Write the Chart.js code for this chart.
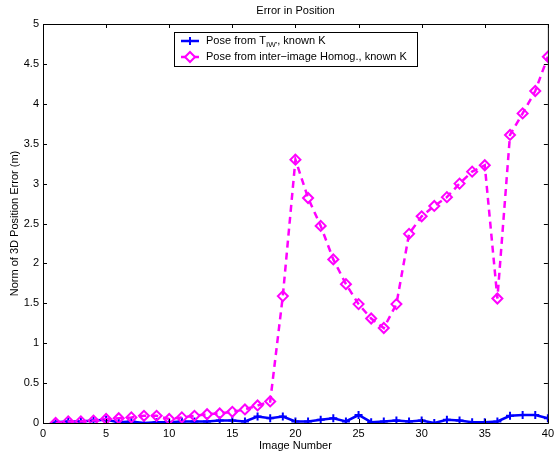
<!DOCTYPE html>
<html>
<head>
<meta charset="utf-8">
<script src="https://cdn.jsdelivr.net/npm/chart.js@4/dist/chart.umd.min.js"></script>
<style>
  html, body { margin: 0; padding: 0; background: #fff; }
  #wrap { width: 558px; height: 455px; }
</style>
</head>
<body>
<div id="wrap"><canvas id="err-pos"></canvas></div>
<script>
const imageNumbers = [1,2,3,4,5,6,7,8,9,10,11,12,13,14,15,16,17,18,19,20,
  21,22,23,24,25,26,27,28,29,30,31,32,33,34,35,36,37,38,39,40];

const poseKnownK = [0.01,0.02,0.02,0.03,0.04,0.01,0.02,0.00,0.01,0.01,
  0.02,0.02,0.02,0.03,0.03,0.02,0.08,0.06,0.08,0.02,
  0.02,0.04,0.06,0.02,0.10,0.01,0.02,0.03,0.02,0.03,
  0.00,0.04,0.03,0.01,0.01,0.02,0.09,0.10,0.10,0.06];

const poseHomog = [0.00,0.02,0.02,0.03,0.05,0.06,0.07,0.09,0.09,0.05,
  0.07,0.09,0.11,0.12,0.14,0.17,0.22,0.27,1.59,3.30,
  2.82,2.47,2.05,1.74,1.49,1.31,1.19,1.49,2.37,2.59,
  2.72,2.83,3.00,3.15,3.23,1.56,3.61,3.88,4.16,4.59];

const xTicks = [0,5,10,15,20,25,30,35,40];
const yTicks = [0,0.5,1,1.5,2,2.5,3,3.5,4,4.5,5];

const FONT = '"Liberation Sans", Arial, sans-serif';

// matlab style box, inward ticks, title and legend
const matlabAxes = {
  id: 'matlabAxes',
  afterDraw(chart) {
    const { ctx, chartArea: a, scales } = chart;
    ctx.save();
    ctx.strokeStyle = '#000';
    ctx.lineWidth = 1;
    ctx.strokeRect(a.left + 0.5, a.top + 0.5, a.right - a.left, a.bottom - a.top);
    ctx.beginPath();
    xTicks.forEach(v => {
      const x = Math.round(scales.x.getPixelForValue(v)) + 0.5;
      ctx.moveTo(x, a.bottom); ctx.lineTo(x, a.bottom - 4);
      ctx.moveTo(x, a.top); ctx.lineTo(x, a.top + 4);
    });
    yTicks.forEach(v => {
      const y = Math.round(scales.y.getPixelForValue(v)) + 0.5;
      ctx.moveTo(a.left, y); ctx.lineTo(a.left + 4, y);
      ctx.moveTo(a.right, y); ctx.lineTo(a.right - 4, y);
    });
    ctx.stroke();

    // title
    ctx.fillStyle = '#000';
    ctx.font = '11px ' + FONT;
    ctx.textAlign = 'center';
    ctx.textBaseline = 'middle';
    ctx.fillText('Error in Position', (a.left + a.right) / 2, 11);

    // legend
    const L = 174, T = 32, R = 417, B = 66;
    ctx.fillStyle = '#fff';
    ctx.fillRect(L, T, R - L, B - T);
    ctx.strokeStyle = '#000';
    ctx.strokeRect(L + 0.5, T + 0.5, R - L, B - T);
    const rows = [41, 57];
    chart.data.datasets.forEach((ds, i) => {
      const y = rows[i];
      ctx.strokeStyle = ds.borderColor;
      ctx.lineWidth = 2.5;
      ctx.setLineDash([]);
      ctx.beginPath(); ctx.moveTo(181, y); ctx.lineTo(199, y); ctx.stroke();
      ctx.lineWidth = 2;
      if (ds.pointStyle === 'cross') {
        ctx.beginPath();
        ctx.moveTo(186, y); ctx.lineTo(194, y);
        ctx.moveTo(190, y - 4); ctx.lineTo(190, y + 4);
        ctx.stroke();
      } else {
        ctx.fillStyle = '#fff';
        ctx.beginPath();
        ctx.moveTo(185, y); ctx.lineTo(190, y - 5); ctx.lineTo(195, y); ctx.lineTo(190, y + 5);
        ctx.closePath(); ctx.fill(); ctx.stroke();
      }
    });
    ctx.fillStyle = '#000';
    ctx.textAlign = 'left';
    ctx.font = '11px ' + FONT;
    let tx = 206;
    ctx.fillText('Pose from T', tx, rows[0]);
    tx += ctx.measureText('Pose from T').width;
    ctx.font = '8px ' + FONT;
    ctx.fillText("IW'", tx, rows[0] + 4);
    tx += ctx.measureText("IW'").width;
    ctx.font = '11px ' + FONT;
    ctx.fillText(', known K', tx, rows[0]);
    ctx.fillText('Pose from inter\u2212image Homog., known K', 206, rows[1]);
    ctx.restore();
  }
};

const ctx1 = document.getElementById('err-pos');
const errChart = new Chart(ctx1, {
  type: 'line',
  data: {
    labels: imageNumbers,
    datasets: [{
      label: "Pose from T_IW', known K",
      data: imageNumbers.map((n, i) => ({ x: n, y: poseKnownK[i] })),
      borderColor: '#0000ff',
      borderWidth: 2.5,
      pointStyle: 'cross',
      pointRadius: 4,
      pointBorderWidth: 2,
      pointBorderColor: '#0000ff',
      tension: 0,
      order: 2
    }, {
      label: 'Pose from inter-image Homog., known K',
      data: imageNumbers.map((n, i) => ({ x: n, y: poseHomog[i] })),
      borderColor: '#ff00ff',
      borderWidth: 2.5,
      borderDash: [7, 5],
      pointStyle: 'rectRot',
      pointRadius: 5,
      pointBorderWidth: 2,
      pointBorderColor: '#ff00ff',
      pointBackgroundColor: 'rgba(255,255,255,0)',
      tension: 0,
      order: 1
    }]
  },
  options: {
    responsive: true,
    maintainAspectRatio: false,
    animation: false,
    layout: { padding: { top: 24, right: 10, left: 0, bottom: 0 } },
    plugins: {
      legend: { display: false },
      title: { display: false },
      tooltip: { enabled: false }
    },
    scales: {
      x: {
        type: 'linear',
        min: 0, max: 40,
        afterFit(s) { s.height = 32; },
        afterBuildTicks(s) { s.ticks = xTicks.map(v => ({ value: v })); },
        grid: { display: false, drawTicks: false },
        border: { display: false },
        ticks: { color: '#000', padding: 4, maxRotation: 0, font: { family: FONT, size: 11 } },
        title: { display: true, text: 'Image Number', color: '#000', padding: { top: 0, bottom: 2 }, font: { family: FONT, size: 11 } }
      },
      y: {
        min: 0, max: 5,
        afterFit(s) { s.width = 43; },
        afterBuildTicks(s) { s.ticks = yTicks.map(v => ({ value: v })); },
        grid: { display: false, drawTicks: false },
        border: { display: false },
        ticks: { color: '#000', padding: 4, font: { family: FONT, size: 11 },
          callback: v => String(v) },
        title: { display: true, text: 'Norm of 3D Position Error (m)', color: '#000', padding: { top: 8, bottom: 0 }, font: { family: FONT, size: 11 } }
      }
    }
  },
  plugins: [matlabAxes]
});
</script>
</body>
</html>
